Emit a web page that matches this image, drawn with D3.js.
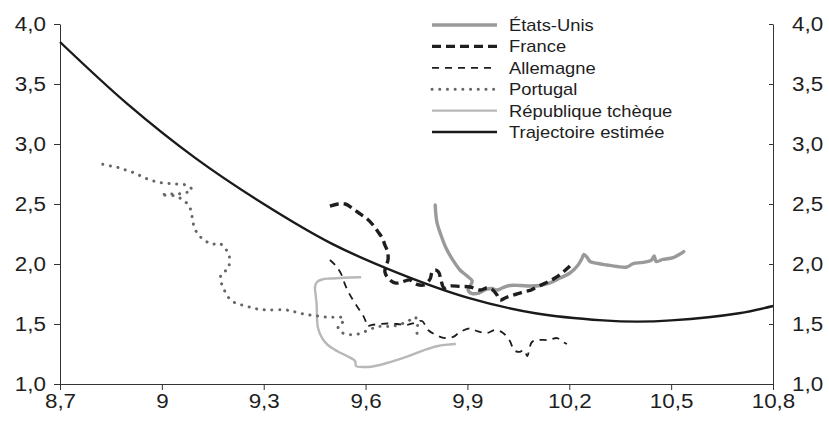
<!DOCTYPE html>
<html>
<head>
<meta charset="utf-8">
<script src="https://cdn.jsdelivr.net/npm/d3@7"></script>
<style>
  html, body { margin: 0; padding: 0; background: #fff; }
  svg { display: block; font-family: "Liberation Sans", Arial, Helvetica, sans-serif; }
</style>
</head>
<body>
<svg id="chart" width="829" height="421"></svg>
<script>
// Axis ticks
const xTicks = [8.7, 9.0, 9.3, 9.6, 9.9, 10.2, 10.5, 10.8];
const yTicks = [1.0, 1.5, 2.0, 2.5, 3.0, 3.5, 4.0];

// Series: [x, y] pairs
const etatsUnis = [
  [9.805, 2.492], [9.810, 2.350], [9.822, 2.242], [9.837, 2.133], [9.855, 2.042],
  [9.878, 1.950], [9.899, 1.900], [9.914, 1.858], [9.908, 1.817], [9.902, 1.783],
  [9.914, 1.754], [9.934, 1.758], [9.955, 1.788], [9.972, 1.796], [9.987, 1.783],
  [10.005, 1.804], [10.025, 1.821], [10.055, 1.821], [10.084, 1.817], [10.114, 1.821],
  [10.143, 1.842], [10.173, 1.883], [10.202, 1.925], [10.226, 1.992], [10.238, 2.050],
  [10.243, 2.079], [10.252, 2.058], [10.261, 2.021], [10.285, 2.004], [10.311, 1.992],
  [10.341, 1.979], [10.370, 1.975], [10.388, 2.004], [10.417, 2.013], [10.442, 2.033],
  [10.450, 2.067], [10.456, 2.021], [10.476, 2.038], [10.506, 2.054], [10.526, 2.083],
  [10.537, 2.104]
];

const france = [
  [9.495, 2.483], [9.519, 2.500], [9.540, 2.500], [9.560, 2.467], [9.584, 2.417],
  [9.605, 2.375], [9.622, 2.325], [9.637, 2.267], [9.649, 2.217], [9.657, 2.158],
  [9.665, 2.100], [9.666, 2.033], [9.660, 1.983], [9.657, 1.933], [9.666, 1.883],
  [9.687, 1.842], [9.707, 1.850], [9.731, 1.867], [9.749, 1.833], [9.772, 1.825],
  [9.790, 1.875], [9.796, 1.933], [9.805, 1.950], [9.815, 1.933], [9.822, 1.867],
  [9.831, 1.800], [9.849, 1.817], [9.878, 1.813], [9.908, 1.808], [9.937, 1.783],
  [9.958, 1.800], [9.975, 1.783], [9.987, 1.742], [9.996, 1.700], [10.014, 1.721],
  [10.037, 1.742], [10.064, 1.767], [10.087, 1.783], [10.114, 1.821], [10.137, 1.850],
  [10.158, 1.883], [10.182, 1.933], [10.202, 1.983]
];

const allemagne = [
  [9.495, 2.033], [9.513, 1.983], [9.528, 1.917], [9.539, 1.833], [9.551, 1.758],
  [9.563, 1.700], [9.578, 1.633], [9.592, 1.575], [9.601, 1.517], [9.604, 1.483],
  [9.619, 1.492], [9.643, 1.500], [9.666, 1.504], [9.693, 1.500], [9.719, 1.492],
  [9.743, 1.508], [9.766, 1.525], [9.784, 1.450], [9.808, 1.408], [9.834, 1.383],
  [9.858, 1.392], [9.878, 1.433], [9.908, 1.463], [9.931, 1.438], [9.958, 1.425],
  [9.981, 1.450], [10.005, 1.425], [10.025, 1.358], [10.037, 1.283], [10.052, 1.267],
  [10.067, 1.283], [10.076, 1.233], [10.090, 1.350], [10.111, 1.367], [10.140, 1.367],
  [10.164, 1.383], [10.179, 1.354], [10.193, 1.333]
];

const portugal = [
  [8.826, 2.831], [8.849, 2.817], [8.873, 2.803], [8.894, 2.783], [8.917, 2.761],
  [8.939, 2.733], [8.960, 2.706], [8.983, 2.686], [9.004, 2.675], [9.029, 2.669],
  [9.051, 2.664], [9.074, 2.656], [9.089, 2.617], [9.068, 2.592], [9.045, 2.583],
  [9.021, 2.583], [8.997, 2.575], [9.039, 2.567], [9.062, 2.533], [9.080, 2.486],
  [9.087, 2.425], [9.091, 2.358], [9.097, 2.294], [9.109, 2.239], [9.126, 2.198],
  [9.147, 2.164], [9.169, 2.175], [9.183, 2.139], [9.197, 2.086], [9.199, 2.023],
  [9.195, 1.958], [9.176, 1.923], [9.173, 1.864], [9.181, 1.803], [9.191, 1.742],
  [9.206, 1.692], [9.225, 1.667], [9.248, 1.650], [9.271, 1.631], [9.296, 1.619],
  [9.319, 1.617], [9.366, 1.617], [9.389, 1.603], [9.413, 1.586], [9.436, 1.575],
  [9.460, 1.567], [9.483, 1.558], [9.504, 1.556], [9.527, 1.556], [9.537, 1.525],
  [9.519, 1.492], [9.525, 1.438], [9.548, 1.414], [9.571, 1.413], [9.592, 1.429],
  [9.615, 1.458], [9.638, 1.479], [9.660, 1.479], [9.682, 1.483], [9.705, 1.500],
  [9.728, 1.528], [9.746, 1.558], [9.753, 1.492], [9.752, 1.417], [9.763, 1.381]
];

const tcheque = [
  [9.584, 1.889], [9.554, 1.888], [9.525, 1.883], [9.495, 1.879], [9.472, 1.871],
  [9.457, 1.850], [9.451, 1.808], [9.453, 1.742], [9.456, 1.658], [9.457, 1.550],
  [9.460, 1.467], [9.472, 1.383], [9.489, 1.325], [9.516, 1.275], [9.545, 1.233],
  [9.569, 1.192], [9.572, 1.150], [9.590, 1.142], [9.616, 1.144], [9.663, 1.175],
  [9.722, 1.229], [9.769, 1.279], [9.813, 1.317], [9.863, 1.333]
];

const trajectoire = [
  [8.7, 3.85], [8.9, 3.33], [9.1, 2.88], [9.3, 2.50], [9.5, 2.17], [9.7, 1.92],
  [9.9, 1.72], [10.1, 1.59], [10.3, 1.53], [10.4, 1.52], [10.5, 1.53], [10.7, 1.59],
  [10.8, 1.65]
];

// Legend labels, top to bottom
const legendLabels = ["États-Unis", "France", "Allemagne", "Portugal", "République tchèque", "Trajectoire estimée"];

// ---- layout ----
const W = 829, H = 421;
const margin = { left: 60, right: 56, top: 24, bottom: 37 };
const svg = d3.select("#chart");

const x = d3.scaleLinear().domain([8.7, 10.8]).range([margin.left, W - margin.right]);
const y = d3.scaleLinear().domain([1.0, 4.0]).range([H - margin.bottom, margin.top]);

const fmtY = d => d.toFixed(1).replace(".", ",");
const fmtX = d => String(+d.toFixed(1)).replace(".", ",");

const axisColor = "#333";
const textColor = "#1e1e1e";

// widen glyphs slightly (the labels use a broad sans face)
function widen(sel, k) {
  sel.each(function () {
    const len = this.getComputedTextLength();
    d3.select(this).attr("textLength", len * k).attr("lengthAdjust", "spacingAndGlyphs");
  });
}

function styleAxis(g) {
  g.selectAll("path.domain").attr("stroke", axisColor).attr("stroke-width", 1);
  g.selectAll(".tick line").attr("stroke", axisColor).attr("stroke-width", 1);
  g.selectAll(".tick text")
    .attr("fill", textColor)
    .style("font-family", "'Liberation Sans', Arial, sans-serif")
    .style("font-size", "20px")
    .call(widen, 1.12);
}

// left axis
svg.append("g")
  .attr("transform", `translate(${margin.left},0)`)
  .call(d3.axisLeft(y).tickValues(yTicks).tickFormat(fmtY).tickSize(6).tickSizeOuter(0).tickPadding(8))
  .call(styleAxis);

// right axis (ticks pointing inward)
svg.append("g")
  .attr("transform", `translate(${W - margin.right},0)`)
  .call(d3.axisRight(y).tickValues(yTicks).tickFormat(fmtY).tickSize(-4).tickSizeOuter(0).tickPadding(19))
  .call(styleAxis);

// bottom axis
svg.append("g")
  .attr("transform", `translate(0,${H - margin.bottom})`)
  .call(d3.axisBottom(x).tickValues(xTicks).tickFormat(fmtX).tickSize(6).tickSizeOuter(0).tickPadding(4))
  .call(styleAxis);

// ---- series styles ----
const styles = {
  etatsUnis:   { stroke: "#9a9a9a", width: 3.4, dash: null, cap: "round" },
  france:      { stroke: "#1e1e1e", width: 3.4, dash: "9,5", cap: "butt" },
  allemagne:   { stroke: "#1e1e1e", width: 1.8, dash: "7,6", cap: "butt" },
  portugal:    { stroke: "#666666", width: 3.0, dash: "0.1,7.6", cap: "round" },
  tcheque:     { stroke: "#b8b8b8", width: 2.4, dash: null, cap: "round" },
  trajectoire: { stroke: "#1a1a1a", width: 2.4, dash: null, cap: "butt" }
};

const line = d3.line()
  .x(d => x(d[0]))
  .y(d => y(d[1]))
  .curve(d3.curveCatmullRom.alpha(0.5));

const plot = svg.append("g");
function drawSeries(data, st) {
  plot.append("path")
    .datum(data)
    .attr("d", line)
    .attr("fill", "none")
    .attr("stroke", st.stroke)
    .attr("stroke-width", st.width)
    .attr("stroke-linecap", st.cap)
    .attr("stroke-linejoin", "round")
    .attr("stroke-dasharray", st.dash);
}

drawSeries(tcheque, styles.tcheque);
drawSeries(portugal, styles.portugal);
drawSeries(etatsUnis, styles.etatsUnis);
drawSeries(allemagne, styles.allemagne);
drawSeries(france, styles.france);
drawSeries(trajectoire, styles.trajectoire);

// ---- legend ----
const legendStyles = [styles.etatsUnis, styles.france, styles.allemagne, styles.portugal, styles.tcheque, styles.trajectoire];
const legend = svg.append("g").attr("transform", "translate(432,25)");
legendLabels.forEach((label, i) => {
  const st = legendStyles[i];
  const gy = i * 21.4;
  legend.append("line")
    .attr("x1", 0).attr("x2", 65)
    .attr("y1", gy).attr("y2", gy)
    .attr("stroke", st.stroke)
    .attr("stroke-width", st.width)
    .attr("stroke-linecap", st.cap === "round" && st.dash ? "round" : "butt")
    .attr("stroke-dasharray", st.dash);
  legend.append("text")
    .attr("x", 77).attr("y", gy)
    .attr("dy", "0.35em")
    .attr("fill", textColor)
    .style("font-size", "17px")
    .text(label)
    .call(widen, 1.08);
});
</script>
</body>
</html>
